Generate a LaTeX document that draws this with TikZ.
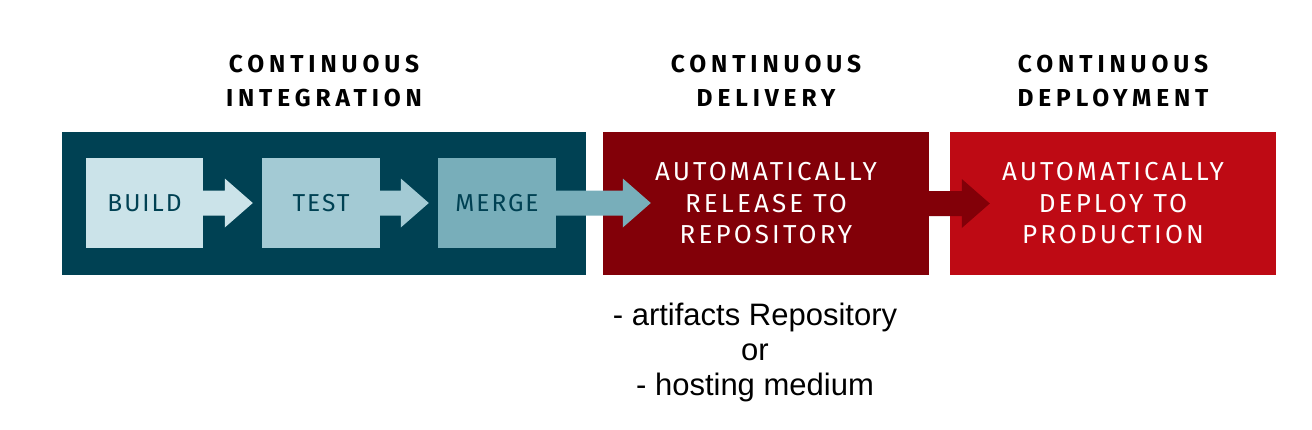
\documentclass[tikz,border=0pt]{standalone}
\usepackage{fontspec}
\setmainfont{Liberation Sans}
\newfontfamily\stagefont[LetterSpace=8]{Fira Sans}
\newfontfamily\phasefont[LetterSpace=12]{Fira Sans}
\newfontfamily\headfont[LetterSpace=20]{Fira Sans}
\usetikzlibrary{positioning,calc}

\definecolor{cipanel}{HTML}{004153}
\definecolor{cdpanel}{HTML}{820008}
\definecolor{cdeppanel}{HTML}{BE0A14}
\definecolor{buildfill}{HTML}{CBE3E9}
\definecolor{testfill}{HTML}{A3CAD4}
\definecolor{mergefill}{HTML}{78AEBA}

\tikzset{
  panel/.style={minimum width=326pt,minimum height=143pt,inner sep=0pt,
    align=center,text=white,font=\phasefont\fontsize{26}{31.5}\selectfont},
  stage/.style={minimum width=118pt,minimum height=90pt,inner sep=0pt,
    text=cipanel,font=\stagefont\fontsize{24.5}{30}\selectfont},
  heading/.style={align=center,font=\headfont\bfseries\fontsize{24.5}{34}\selectfont},
  note/.style={align=center,font=\fontsize{31}{35}\selectfont}
}

\begin{document}
\begin{tikzpicture}[x=1pt,y=-1pt]
  \useasboundingbox (0,0) rectangle (1312,429);
  % three phases
  \node [panel,fill=cipanel,minimum width=524pt] (ci) at (324,203.5) {};
  \node [panel,fill=cdpanel] (cd) at (766,203.5) {AUTOMATICALLY\\RELEASE TO\\REPOSITORY};
  \node [panel,fill=cdeppanel] (cdep) at (1113,203.5) {AUTOMATICALLY\\DEPLOY TO\\PRODUCTION};
  \node [heading] (cihead) at (324,81) {CONTINUOUS\\INTEGRATION};
  \node [heading] (cdhead) at (766,81) {CONTINUOUS\\DELIVERY};
  \node [heading] (cdephead) at (1113,81) {CONTINUOUS\\DEPLOYMENT};
  % steps inside integration
  \node [stage,fill=buildfill,minimum width=117pt] (build) at (144.5,203) {BUILD};
  \node [stage,fill=testfill] (test) at (321,203) {TEST};
  \node [stage,fill=mergefill] (merge) at (497,203) {MERGE};
  % block arrows
  \foreach \a/\b/\d/\col in {build/test/-9/buildfill,test/merge/-9/testfill,
      merge/cd/48/mergefill,cd/cdep/40/cdpanel}
    \fill [\col] ($(\a.east)+(0,-12.5)$) -- ($(\a.east -| \b.west)+(\d-28,-12.5)$)
      -- ++(0,-12) -- ($(\a.east -| \b.west)+(\d,0)$)
      -- ($(\a.east -| \b.west)+(\d-28,24.5)$) -- ++(0,-12)
      -- ($(\a.east)+(0,12.5)$) -- cycle;
  \node [note] (target) at (755,352) {- artifacts Repository\\or\\- hosting medium};
\end{tikzpicture}
\end{document}
